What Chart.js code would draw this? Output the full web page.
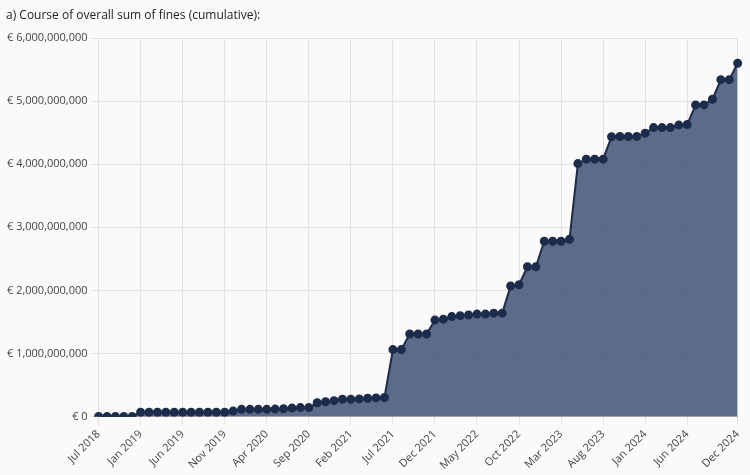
<!DOCTYPE html>
<html><head><meta charset="utf-8">
<script src="https://cdn.jsdelivr.net/npm/chart.js@4"></script>
<style>
html,body{margin:0;padding:0;background:#fafafa;}
#t{position:absolute;left:6px;top:6px;font:12px "Open Sans",sans-serif;color:#222;}
#w{position:absolute;left:0;top:0;width:750px;height:475px;}
</style></head><body>
<div id="w"><canvas id="c"></canvas></div>
<div id="t">a) Course of overall sum of fines (cumulative):</div>
<script>
const months = ["Jul 2018","Sep 2018","Oct 2018","Nov 2018","Dec 2018",
"Jan 2019","Feb 2019","Mar 2019","Apr 2019","May 2019","Jun 2019","Jul 2019","Aug 2019","Sep 2019","Oct 2019","Nov 2019","Dec 2019",
"Jan 2020","Feb 2020","Mar 2020","Apr 2020","May 2020","Jun 2020","Jul 2020","Aug 2020","Sep 2020","Oct 2020","Nov 2020","Dec 2020",
"Jan 2021","Feb 2021","Mar 2021","Apr 2021","May 2021","Jun 2021","Jul 2021","Aug 2021","Sep 2021","Oct 2021","Nov 2021","Dec 2021",
"Jan 2022","Feb 2022","Mar 2022","Apr 2022","May 2022","Jun 2022","Jul 2022","Aug 2022","Sep 2022","Oct 2022","Nov 2022","Dec 2022",
"Jan 2023","Feb 2023","Mar 2023","Apr 2023","May 2023","Jun 2023","Jul 2023","Aug 2023","Sep 2023","Oct 2023","Nov 2023","Dec 2023",
"Jan 2024","Feb 2024","Mar 2024","Apr 2024","May 2024","Jun 2024","Jul 2024","Aug 2024","Sep 2024","Oct 2024","Nov 2024","Dec 2024"];
const shownLabels = ["Jul 2018","Jan 2019","Jun 2019","Nov 2019","Apr 2020","Sep 2020","Feb 2021","Jul 2021","Dec 2021","May 2022","Oct 2022","Mar 2023","Aug 2023","Jan 2024","Jun 2024","Dec 2024"];
const fines = [0.002,0.003,0.003,0.003,0.003,
0.07,0.07,0.07,0.07,0.07,0.07,0.07,0.07,0.07,0.07,0.07,0.088,
0.116,0.116,0.116,0.116,0.12,0.125,0.135,0.143,0.143,0.22,0.236,0.253,
0.275,0.275,0.281,0.292,0.297,0.303,1.063,1.063,1.31,1.31,1.31,1.53,
1.545,1.585,1.60,1.61,1.625,1.625,1.64,1.64,2.07,2.09,2.375,2.375,
2.78,2.78,2.78,2.81,4.01,4.08,4.08,4.08,4.435,4.44,4.44,4.44,
4.49,4.58,4.58,4.58,4.62,4.63,4.94,4.94,5.03,5.34,5.34,5.60].map(v=>v*1e9);
const yTicks = [0,1e9,2e9,3e9,4e9,5e9,6e9];
const fmt = v => '€ ' + Math.round(v).toLocaleString('en-US');
new Chart(document.getElementById('c'), {
  type:'line',
  data:{labels:months,datasets:[{data:fines,borderColor:'#1b2c4c',backgroundColor:'rgba(70,88,120,0.88)',fill:'origin',
    borderWidth:2,pointRadius:3.5,pointBackgroundColor:'#1b2c4c',pointBorderColor:'#1b2c4c',tension:0}]},
  options:{responsive:true,maintainAspectRatio:false,animation:false,
    layout:{padding:{top:38,right:12,left:4,bottom:0}},
    plugins:{legend:{display:false},tooltip:{enabled:false}},
    scales:{
      x:{grid:{color:'#e2e2e2'},border:{color:'#ccc'},
        ticks:{autoSkip:false,maxRotation:45,minRotation:45,color:'#444',font:{family:'Open Sans',size:11},
          callback:function(v,i){const l=months[i];return shownLabels.includes(l)?l:null;}}},
      y:{min:0,max:6e9,afterBuildTicks:a=>{a.ticks=yTicks.map(v=>({value:v}));},
        grid:{color:'#e2e2e2'},border:{display:false},
        ticks:{color:'#444',font:{family:'Open Sans',size:11},callback:v=>fmt(v)}}
    }}
});
</script></body></html>
